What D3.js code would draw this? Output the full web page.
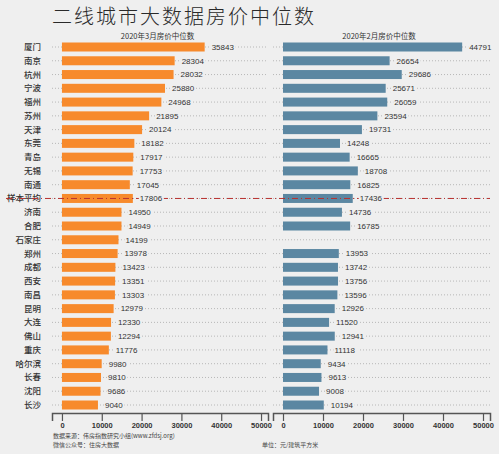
<!DOCTYPE html>
<html>
<head>
<meta charset="utf-8">
<script src="https://cdn.jsdelivr.net/npm/d3@7"></script>
<style>
  body { margin: 0; background: #efefef; }
  svg { display: block; }
</style>
</head>
<body>
<div id="chart"></div>
<script>
var cities = ['厦门', '南京', '杭州', '宁波', '福州', '苏州', '天津', '东莞', '青岛', '无锡', '南通',
  '样本平均', '济南', '合肥', '石家庄', '郑州', '成都', '西安', '南昌', '昆明', '大连', '佛山',
  '重庆', '哈尔滨', '长春', '沈阳', '长沙'];

var march = [35843, 28304, 28032, 25880, 24968, 21895, 20124, 18182, 17917, 17753, 17045,
  17806, 14950, 14949, 14199, 13978, 13423, 13351, 13303, 12979, 12330, 12294,
  11776, 9980, 9810, 9686, 9040];

var february = [44791, 26654, 29686, 25671, 26059, 23594, 19731, 14248, 16665, 18708, 16825,
  17436, 14736, 16785, null, 13953, 13742, 13756, 13596, 12926, 11520, 12941,
  11118, 9434, 9613, 9008, 10194];

var tickValues = [0, 10000, 20000, 30000, 40000, 50000];
var avgName = '样本平均';

var width = 499, height = 454;
var bg = '#efefef';
var cjk = '"Noto Sans CJK SC", sans-serif';
var sans = '"Liberation Sans", Arial, sans-serif';

var svg = d3.select('#chart').append('svg')
  .attr('width', width)
  .attr('height', height);

svg.append('rect').attr('width', width).attr('height', height).attr('fill', bg);

svg.append('text')
  .attr('x', 52).attr('y', 23.5)
  .attr('font-family', cjk)
  .attr('font-weight', 300)
  .attr('font-size', 20)
  .attr('letter-spacing', 2)
  .attr('fill', '#2a2a2a')
  .text('二线城市大数据房价中位数');

var y = d3.scalePoint().domain(cities).range([47, 405]);
var barH = 9;
var axisY = 413;

// city labels
svg.append('g').selectAll('text')
  .data(cities)
  .enter().append('text')
  .attr('x', 41)
  .attr('y', function (d) { return y(d); })
  .attr('dy', '0.35em')
  .attr('text-anchor', 'end')
  .attr('font-family', cjk)
  .attr('font-weight', 500)
  .attr('font-size', 8.5)
  .attr('fill', '#333')
  .text(function (d) { return d; });

function panel(values, range, color, title) {
  var x = d3.scaleLinear().domain([-2500, 51750]).range(range);
  var g = svg.append('g');

  g.append('text')
    .attr('x', x(24000)).attr('y', 38.5)
    .attr('text-anchor', 'middle')
    .attr('font-family', cjk)
    .attr('font-size', 7.5)
    .attr('fill', '#333')
    .text(title);

  // dotted guides
  g.selectAll('.guide')
    .data(cities)
    .enter().append('line')
    .attr('class', 'guide')
    .attr('x1', range[0]).attr('x2', range[1])
    .attr('y1', function (d) { return y(d); })
    .attr('y2', function (d) { return y(d); })
    .attr('stroke', '#aaa')
    .attr('stroke-width', 0.8)
    .attr('stroke-dasharray', '1,2');

  var rows = cities.map(function (c, i) { return { city: c, v: values[i] }; })
    .filter(function (d) { return d.v != null; });

  g.selectAll('.bar')
    .data(rows)
    .enter().append('rect')
    .attr('class', 'bar')
    .attr('x', x(0))
    .attr('y', function (d) { return y(d.city) - barH / 2; })
    .attr('width', function (d) { return x(d.v) - x(0); })
    .attr('height', barH)
    .attr('fill', color);

  // axis
  var axis = d3.axisBottom(x).tickValues(tickValues).tickSize(8).tickSizeOuter(8)
    .tickFormat(d3.format('d'));
  var ag = g.append('g').attr('transform', 'translate(0,' + axisY + ')').call(axis);
  ag.select('.domain').attr('stroke', '#555').attr('stroke-width', 1.5);
  ag.selectAll('.tick line').attr('stroke', '#555').attr('stroke-width', 1.2);
  ag.selectAll('.tick text')
    .attr('y', 10)
    .attr('font-family', sans)
    .attr('font-weight', 'bold')
    .attr('font-size', 7.5)
    .attr('fill', '#333');

  return { x: x, rows: rows };
}

var left = panel(march, [52, 268], '#f78a2c', '2020年3月房价中位数');
var right = panel(february, [273, 490], '#5b87a2', '2020年2月房价中位数');

// average line
svg.append('line')
  .attr('x1', 6).attr('x2', 490)
  .attr('y1', y(avgName)).attr('y2', y(avgName))
  .attr('stroke', '#b8312f')
  .attr('stroke-width', 1)
  .attr('stroke-dasharray', '6,3,1,3');

// value labels, on top of the average line
[left, right].forEach(function (p) {
  var lab = svg.append('g').selectAll('g')
    .data(p.rows)
    .enter().append('g')
    .attr('transform', function (d) { return 'translate(' + (p.x(d.v) + 7) + ',' + y(d.city) + ')'; });
  lab.append('rect')
    .attr('x', -1).attr('y', -4)
    .attr('width', function (d) { return String(d.v).length * 4.6 + 2; })
    .attr('height', 8)
    .attr('fill', bg);
  lab.append('text')
    .attr('dy', '0.35em')
    .attr('font-family', sans)
    .attr('font-size', 8)
    .attr('fill', '#333')
    .text(function (d) { return d.v; });
});

// footer
var foot = svg.append('g')
  .attr('font-family', cjk)
  .attr('font-size', 6)
  .attr('fill', '#444');
foot.append('text').attr('x', 53).attr('y', 437.5).text('数据来源：伟房指数研究小组(www.zfdsj.org)');
foot.append('text').attr('x', 53).attr('y', 446.5).text('微信公众号：住房大数据');
foot.append('text').attr('x', 262).attr('y', 446.5).text('单位：元/建筑平方米');
</script>
</body>
</html>
